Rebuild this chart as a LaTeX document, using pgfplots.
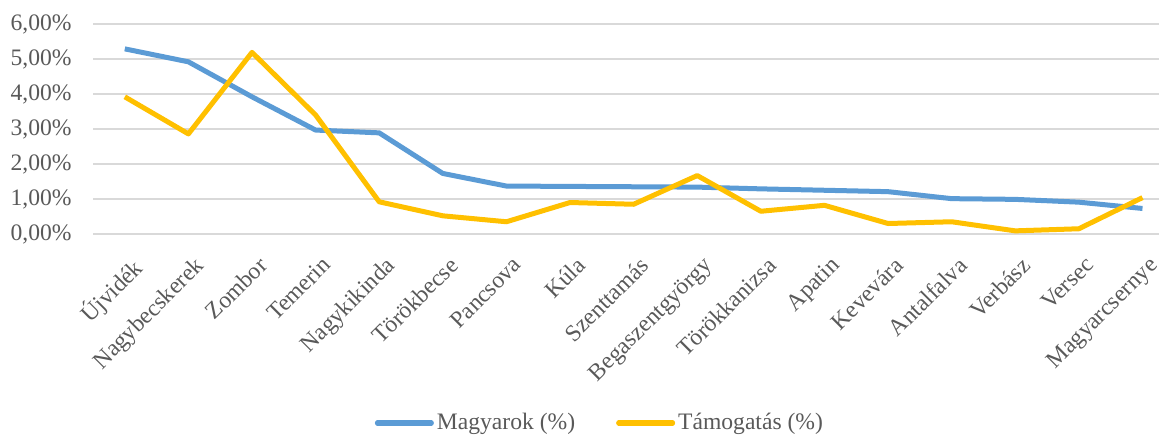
\documentclass[border=0pt]{standalone}
\usepackage{fontspec}
\setmainfont{Liberation Serif}
\usepackage{pgfplots}
\pgfplotsset{compat=1.18}
\definecolor{tickgray}{RGB}{89,89,89}
\definecolor{gridgray}{RGB}{217,217,217}
\definecolor{xlblue}{RGB}{91,155,213}
\definecolor{xlgold}{RGB}{255,192,0}
\begin{document}
\begin{tikzpicture}
\useasboundingbox (-46.5pt,-100.5pt) rectangle (533pt,117pt);
\begin{axis}[
  at={(0pt,0pt)}, anchor=south west,
  scale only axis, width=533pt, height=105pt,
  xmin=-0.5, xmax=16.26, ymin=0, ymax=6,
  ytick={0,1,2,3,4,5,6},
  yticklabels={{0,00\%},{1,00\%},{2,00\%},{3,00\%},{4,00\%},{5,00\%},{6,00\%}},
  xtick={0,1,...,16},
  xticklabels={Újvidék,Nagybecskerek,Zombor,Temerin,Nagykikinda,Törökbecse,Pancsova,Kúla,Szenttamás,Begaszentgyörgy,Törökkanizsa,Apatin,Kevevára,Antalfalva,Verbász,Versec,Magyarcsernye},
  axis line style={draw=none}, major tick length=0pt,
  ymajorgrids, grid style={gridgray, line width=0.85pt},
  tick label style={font=\fontsize{11.8}{14}\selectfont, text=tickgray},
  yticklabel style={anchor=east, inner sep=0pt, xshift=-10.5pt},
  xticklabel style={xshift=2.5pt, yshift=-10.5pt, rotate=45, anchor=north east, inner sep=0pt},
  clip=false,
  legend columns=2,
  legend style={at={(0.476,-0.9)}, anchor=center, draw=none, fill=none,
    font=\fontsize{11.8}{14}\selectfont, text=tickgray,
    /tikz/every even column/.append style={column sep=19pt},
    nodes={inner sep=1.5pt}},
  legend image code/.code={\draw[#1, line width=2.5pt, line cap=round] (0pt,0pt) -- (27pt,0pt);},
]
\addplot[xlblue, line width=2.5pt, line join=round] coordinates {
(0,5.29) (1,4.92) (2,3.92) (3,2.97) (4,2.89) (5,1.73) (6,1.37) (7,1.36) (8,1.35) (9,1.34) (10,1.29) (11,1.25) (12,1.21) (13,1.01) (14,0.99) (15,0.91) (16,0.73)
};
\addlegendentry{Magyarok (\%)}
\addplot[xlgold, line width=2.5pt, line join=round] coordinates {
(0,3.92) (1,2.86) (2,5.19) (3,3.40) (4,0.92) (5,0.52) (6,0.35) (7,0.90) (8,0.85) (9,1.67) (10,0.65) (11,0.82) (12,0.30) (13,0.35) (14,0.09) (15,0.15) (16,1.04)
};
\addlegendentry{Támogatás (\%)}
\end{axis}
\end{tikzpicture}
\end{document}
